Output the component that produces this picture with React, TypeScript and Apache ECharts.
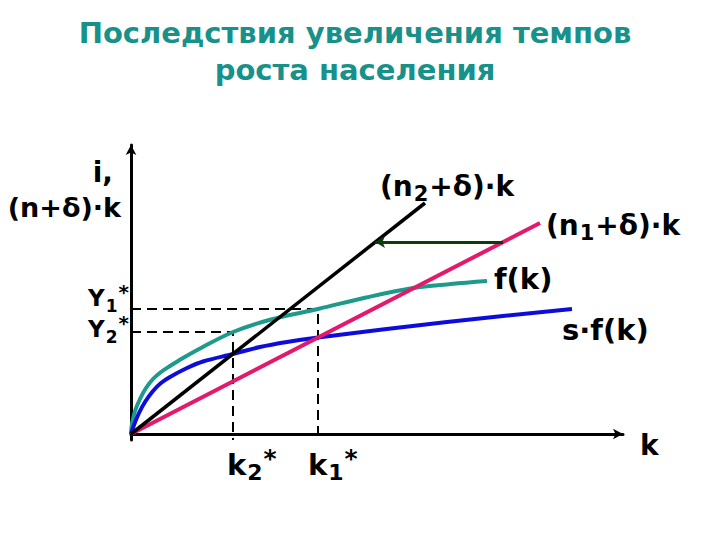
import React, { useEffect, useRef } from "react";
import * as echarts from "echarts";

// Data units: k along horizontal axis, output/investment along vertical axis
const fkX = [0, 0.1, 0.4, 0.9, 1.5, 2.2, 3.0, 3.9, 5.2, 7, 10.2, 14, 18.7, 23.5, 28.2, 32, 35.6];
const fkY = [0, 1.0, 2.3, 3.5, 4.6, 5.5, 6.2, 6.8, 7.6, 8.6, 10.2, 11.45, 12.5, 13.65, 14.6, 15.0, 15.3];
const sfkX = [0, 0.3, 0.8, 1.4, 2.2, 3.0, 3.9, 5.6, 7.2, 10.2, 12.9, 15.6, 18.7, 31.6, 44.1];
const sfkY = [0, 0.9, 2.1, 3.2, 4.3, 5.1, 5.7, 6.6, 7.25, 8.0, 8.7, 9.2, 9.65, 11.2, 12.5];
const n1LineX = [0, 40.9];
const n1LineY = [0, 21.1];
const n2LineX = [0, 29.4];
const n2LineY = [0, 23.1];
const arrowX = [37.2, 24.4];
const arrowY = [19.2, 19.2];
const kStars = [18.7, 10.2]; // k1*, k2*
const yStars = [12.5, 10.2]; // Y1*, Y2*
const axisX = [0, 49.2];
const axisY = [-0.6, 28.9];

const titleLines = ["Последствия увеличения темпов", "роста населения"];

const zip = (xs: number[], ys: number[]) => xs.map((x, i) => [x, ys[i]]);

const FONT = "DejaVu Sans";
const PINK = "#e3196b";
const TEAL = "#1d9a8c";
const BLUE = "#0d0ddb";

const richBase = (size: number, color: string) => ({
  m: { fontSize: size, fontWeight: "bold", fontFamily: FONT, color },
  sub: { fontSize: Math.round(size * 0.75), fontWeight: "bold", fontFamily: FONT, color, padding: [15, 1, 0, 1] },
  sup: { fontSize: Math.round(size * 0.85), fontWeight: "bold", fontFamily: FONT, color, padding: [0, 0, 13, 0] },
});

const label = (text: string, x: number, y: number, size: number, color: string, align = "left") => ({
  type: "text",
  x,
  y,
  style: {
    text,
    align,
    verticalAlign: "middle",
    rich: richBase(size, color),
  },
});

export default function App() {
  const ref = useRef<HTMLDivElement>(null);
  useEffect(() => {
    if (!ref.current) return;
    const chart = echarts.init(ref.current, null, { renderer: "svg" });
    const dashStyle = { color: "#000", width: 2, type: [10, 6] as any };
    chart.setOption({
      animation: false,
      backgroundColor: "#fff",
      grid: { left: 131, top: 145, width: 492, height: 295 },
      xAxis: {
        type: "value",
        min: axisX[0],
        max: axisX[1],
        axisLine: { show: true, symbol: ["none", "arrow"], symbolSize: [8, 10], lineStyle: { color: "#000", width: 3 } },
        axisTick: { show: false },
        axisLabel: { show: false },
        splitLine: { show: false },
      },
      yAxis: {
        type: "value",
        min: axisY[0],
        max: axisY[1],
        axisLine: { show: true, onZero: false, symbol: ["none", "arrow"], symbolSize: [8, 10], lineStyle: { color: "#000", width: 3 } },
        axisTick: { show: false },
        axisLabel: { show: false },
        splitLine: { show: false },
      },
      series: [
        {
          type: "line",
          data: [[0, yStars[0]], [kStars[0], yStars[0]], [kStars[0], axisY[0]]],
          showSymbol: false,
          lineStyle: dashStyle,
          silent: true,
        },
        {
          type: "line",
          data: [[0, yStars[1]], [kStars[1], yStars[1]], [kStars[1], axisY[0]]],
          showSymbol: false,
          lineStyle: dashStyle,
          silent: true,
        },
        {
          type: "line",
          name: "f(k)",
          data: zip(fkX, fkY),
          smooth: 0.35,
          showSymbol: false,
          lineStyle: { color: TEAL, width: 4 },
        },
        {
          type: "line",
          name: "s·f(k)",
          data: zip(sfkX, sfkY),
          smooth: 0.35,
          showSymbol: false,
          lineStyle: { color: BLUE, width: 4 },
        },
        {
          type: "line",
          name: "(n1+δ)·k",
          data: zip(n1LineX, n1LineY),
          showSymbol: false,
          lineStyle: { color: PINK, width: 4 },
        },
        {
          type: "line",
          name: "(n2+δ)·k",
          data: zip(n2LineX, n2LineY),
          showSymbol: false,
          lineStyle: { color: "#000", width: 3.5 },
        },
        {
          type: "line",
          data: [],
          markLine: {
            silent: true,
            symbol: ["none", "arrow"],
            symbolSize: [9, 10],
            label: { show: false },
            lineStyle: { color: "#0b3d0b", width: 3, type: "solid" },
            data: [[{ coord: [arrowX[0], arrowY[0]] }, { coord: [arrowX[1], arrowY[1]] }]],
          },
        },
      ],
      graphic: [
        {
          type: "text",
          x: 355,
          y: 33,
          style: { text: titleLines[0], align: "center", verticalAlign: "middle", fontSize: 29, fontWeight: "bold", fontFamily: FONT, fill: "#17918a" },
        },
        {
          type: "text",
          x: 355,
          y: 70,
          style: { text: titleLines[1], align: "center", verticalAlign: "middle", fontSize: 29, fontWeight: "bold", fontFamily: FONT, fill: "#17918a" },
        },
        label("{m|i,}", 113, 172, 28, "#000", "right"),
        label("{m|(n+δ)·k}", 121, 207, 27, "#000", "right"),
        label("{m|(n}{sub|2}{m|+δ)·k}", 380, 186, 28, "#000"),
        label("{m|(n}{sub|1}{m|+δ)·k}", 546, 225, 28, "#000"),
        label("{m|f(k)}", 494, 279, 29, "#000"),
        label("{m|s·f(k)}", 562, 330, 29, "#000"),
        label("{m|k}", 640, 445, 28, "#000"),
        label("{m|Y}{sub|1}{sup|*}", 88, 298, 23, PINK),
        label("{m|Y}{sub|2}{sup|*}", 88, 329, 23, PINK),
        label("{m|k}{sub|2}{sup|*}", 227, 465, 29, PINK),
        label("{m|k}{sub|1}{sup|*}", 308, 465, 29, PINK),
      ],
    });
    return () => chart.dispose();
  }, []);
  return <div ref={ref} style={{ position: "fixed", left: 0, top: 0, width: 720, height: 540 }} />;
}
